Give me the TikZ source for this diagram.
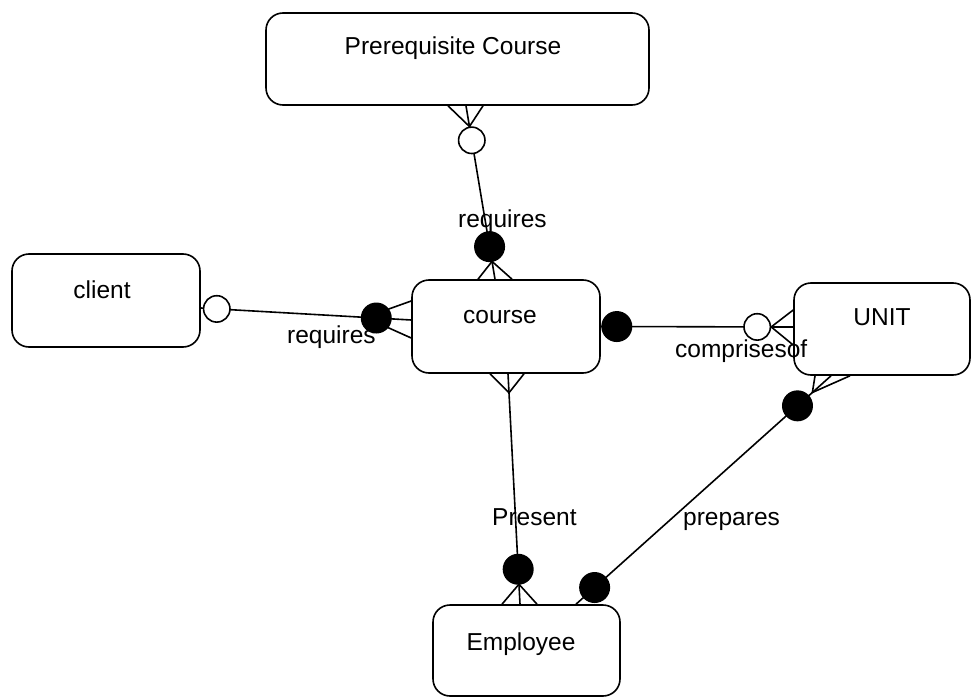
\documentclass[tikz,border=0pt]{standalone}
\usepackage{fontspec}
\setmainfont{Liberation Sans}
\usetikzlibrary{calc}
\begin{document}
\begin{tikzpicture}[x=1pt,y=-1pt,
  entity/.style={draw, line width=1.6pt, rounded corners=17pt, inner sep=0pt, minimum height=92pt},
  etext/.style={anchor=base, inner sep=0pt, font=\fontsize{24.5}{29}\selectfont},
  rlabel/.style={anchor=base west, inner sep=0pt, font=\fontsize{24.5}{29}\selectfont},
  rel/.style={line width=1.6pt},
  optc/.style={draw, line width=1.6pt, fill=white},
  mandc/.style={fill=black}]
\fill[white] (0,0) rectangle (971,698);
\useasboundingbox (0,0) rectangle (971,698);

% entities
\node[entity, minimum width=383pt] (pc) at (457.5,59) {};
\node[etext] (pc-t) at (453,55) {Prerequisite Course};
\node[entity, minimum width=188pt, minimum height=93pt] (client) at (106,300.5) {};
\node[etext] (client-t) at (102,298) {client};
\node[entity, minimum width=188pt, minimum height=93pt] (course) at (506,326.5) {};
\node[etext] (course-t) at (500,323) {course};
\node[entity, minimum width=176pt] (unit) at (882,329) {};
\node[etext] (unit-t) at (882,325) {UNIT};
\node[entity, minimum width=187pt, minimum height=91pt] (emp) at (526.5,650.5) {};
\node[etext] (emp-t) at (521,650) {Employee};

% Prerequisite Course -- course
\coordinate (a1) at ([xshift=8.5pt]pc.south);
\coordinate (a2) at ([xshift=-11pt]course.north);
\draw[rel] (a1) -- (a2);
\draw[rel] ([xshift=-18pt]a1) -- ($(a1)!21pt!(a2)$) -- ([xshift=17pt]a1);
\draw[optc] ($(a1)!35pt!(a2)$) circle[radius=13.2pt];
\draw[rel] ([xshift=-17pt]a2) -- ($(a2)!18pt!(a1)$) -- ([xshift=17pt]a2);
\fill[mandc] ($(a2)!33pt!(a1)$) circle[radius=15.5pt];
\node[rlabel] (a-lab) at (458,227) {requires};

% client -- course
\coordinate (b1) at ([yshift=-7.5pt]client.east);
\coordinate (b2) at ([yshift=6.5pt]course.west);
\draw[rel] (b1) -- (b2);
\draw[optc] ($(b1)!16pt!(b2)$) circle[radius=13.2pt];
\draw[rel] ([yshift=19pt]b2) -- ($(b2)!46pt!(b1)$) -- ([yshift=-18pt]b2);
\fill[mandc] ($(b2)!35pt!(b1)$) circle[radius=15.5pt];
\node[rlabel] (b-lab) at (287,343) {requires};

% course -- UNIT
\coordinate (c1) at (course.east);
\coordinate (c2) at ([yshift=2pt]unit.west);
\draw[rel] (c1) -- (c2);
\fill[mandc] ($(c1)!16pt!(c2)$) circle[radius=15.5pt];
\draw[rel] ([yshift=17pt]c2) -- ($(c2)!22pt!(c1)$) -- ([yshift=-18pt]c2);
\draw[optc] ($(c2)!36pt!(c1)$) circle[radius=13.2pt];
\node[rlabel] (c-lab) at (675,357) {comprisesof};

% course -- Employee
\coordinate (d1) at ([xshift=2pt]course.south);
\coordinate (d2) at ([xshift=-6.5pt]emp.north);
\draw[rel] (d1) -- (d2);
\draw[rel] ([xshift=-18pt]d1) -- ($(d1)!19pt!(d2)$) -- ([xshift=16pt]d1);
\draw[rel] ([xshift=-18pt]d2) -- ($(d2)!20pt!(d1)$) -- ([xshift=17pt]d2);
\fill[mandc] ($(d2)!35pt!(d1)$) circle[radius=15.5pt];
\node[rlabel] (d-lab) at (492,525) {Present};

% UNIT -- Employee
\coordinate (e1) at ([xshift=-51pt]unit.south);
\coordinate (e2) at ([xshift=49.5pt]emp.north);
\draw[rel] (e1) -- (e2);
\draw[rel] ([xshift=-16pt]e1) -- ($(e1)!25pt!(e2)$) -- ([xshift=19pt]e1);
\fill[mandc] ($(e1)!45pt!(e2)$) circle[radius=15.5pt];
\fill[mandc] ($(e2)!25pt!(e1)$) circle[radius=15.5pt];
\node[rlabel] (e-lab) at (683,525) {prepares};
\end{tikzpicture}
\end{document}
